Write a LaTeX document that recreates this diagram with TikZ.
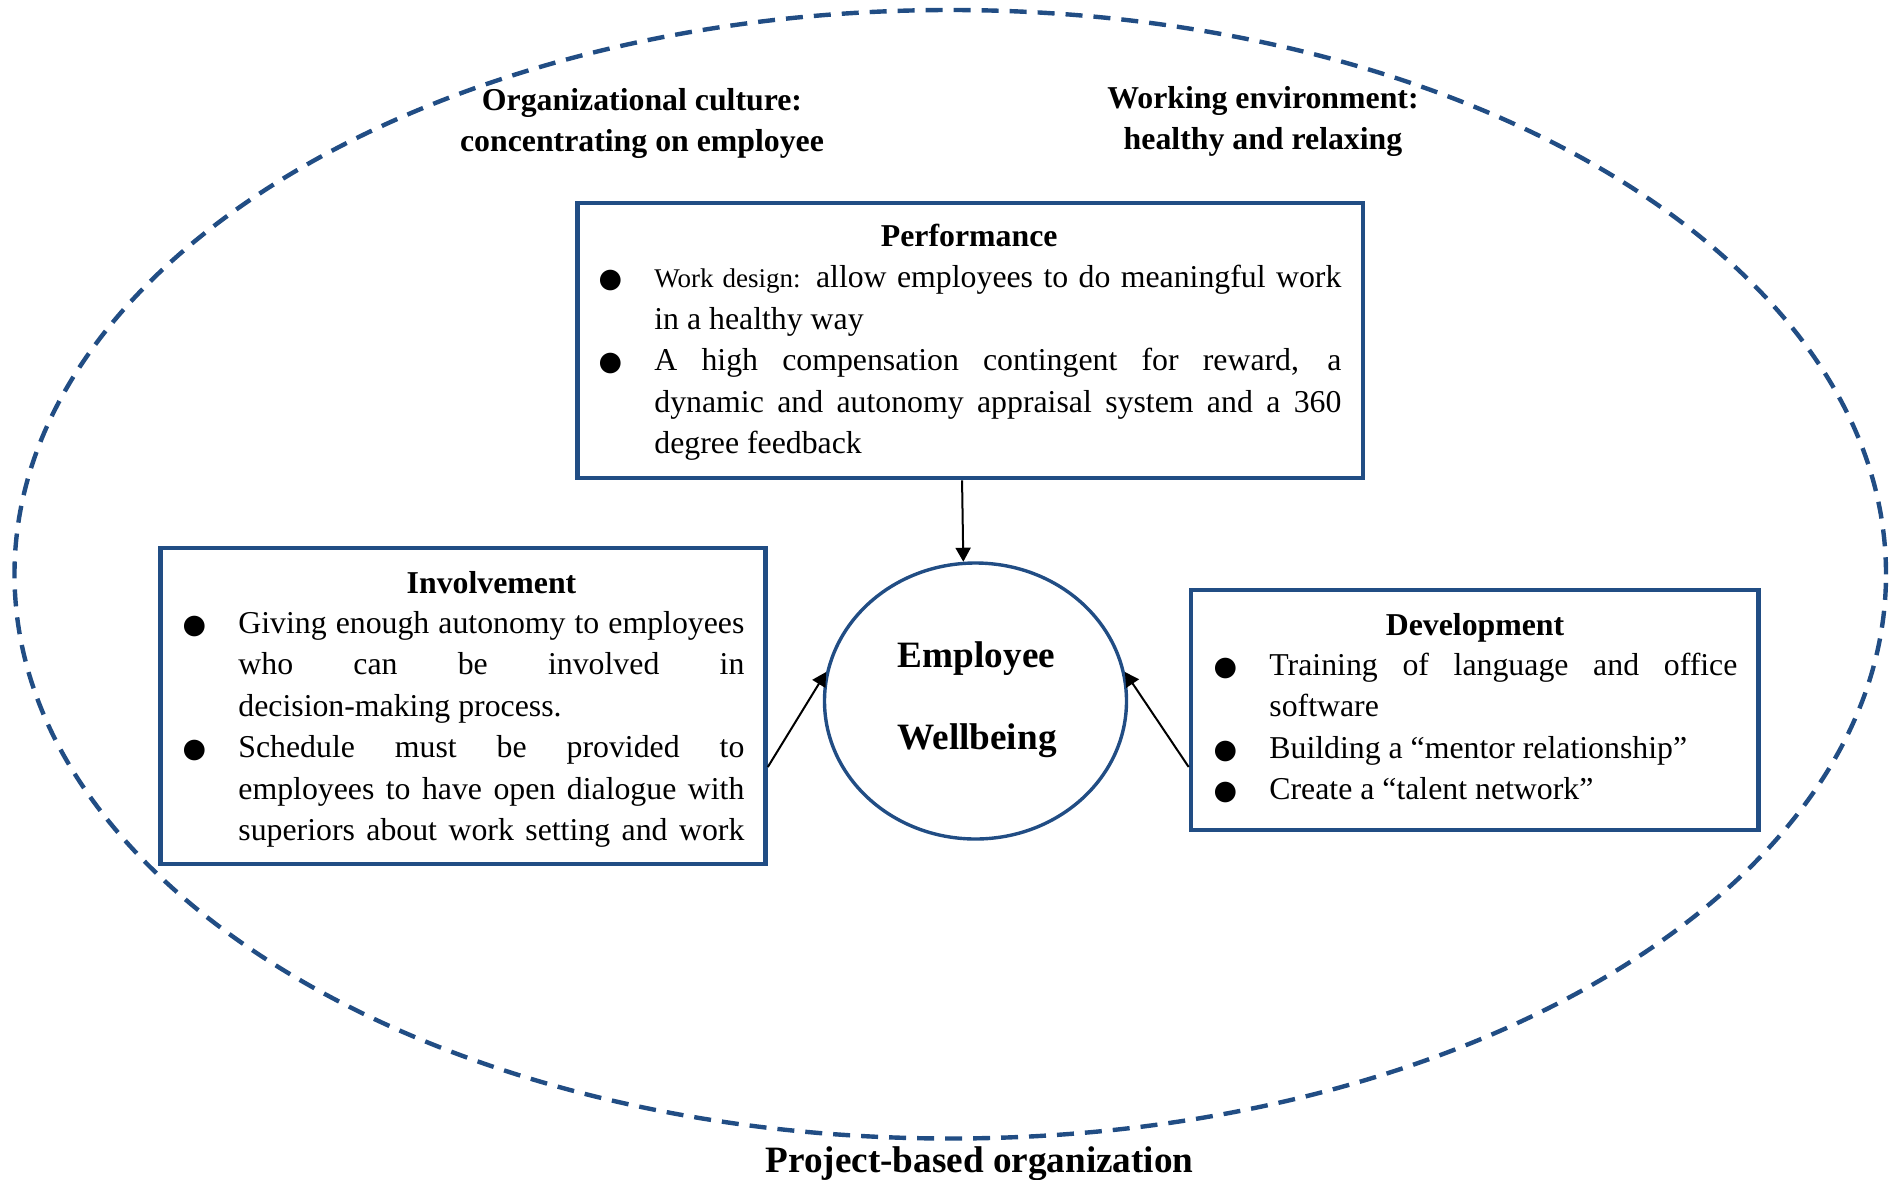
\documentclass[tikz,border=0pt]{standalone}
\usepackage{fontspec}
\setmainfont{Liberation Serif}
\newfontfamily\symfont{DejaVu Sans}
\usetikzlibrary{shapes.geometric,arrows.meta}
\definecolor{frameblue}{RGB}{33,77,132}
\tolerance=10000

% bullet glyph and hanging bullet items (items are separated by \par)
\newcommand{\blob}{\makebox[14pt][c]{\symfont\fontsize{13.5}{13.5}\selectfont ●}}
\newcommand{\point}{\noindent\hangindent=29pt\hangafter=1\makebox[29pt][l]{\blob}\ignorespaces}

\tikzset{
  panel/.style={draw=frameblue, line width=2.3pt, rectangle, inner sep=0pt},
  hub/.style={draw=frameblue, line width=1.7pt, ellipse, inner sep=0pt},
  boundary/.style={draw=frameblue, line width=2.2pt, dash pattern=on 8.5pt off 5.5pt, ellipse, inner sep=0pt},
  heading/.style={font=\fontsize{15.9}{20.75}\selectfont\bfseries, anchor=base, inner sep=0pt},
  bigheading/.style={font=\fontsize{18.6}{22}\selectfont\bfseries, anchor=base, inner sep=0pt},
  body/.style={font=\fontsize{15.9}{20.75}\selectfont, anchor=north west, inner sep=0pt, align=justify},
  link/.style={draw=black, line width=1pt, -{Triangle[length=7pt,width=7.5pt]}},
}

\begin{document}
\begin{tikzpicture}[x=0.5pt, y=-0.5pt]
\useasboundingbox (0,0) rectangle (1890,1179);

% outer boundary of the organisation
\node[boundary, minimum width=935.75pt, minimum height=564.25pt] (org) at (950.25,574.25) {};
\node[bigheading] (orgname) at (979.5,1172) {Project-based organization};

% context labels
\node[heading] (culture1) at (642,110.7) {Organizational culture:};
\node[heading] (culture2) at (642,151.7) {concentrating on employee};
\node[heading] (env1) at (1263,108.7) {Working environment:};
\node[heading] (env2) at (1263,149.7) {healthy and relaxing};

% performance panel
\node[panel, minimum width=392.75pt, minimum height=137.5pt] (perf) at (970.25,340.5) {};
\node[heading] (perftitle) at (969.2,246.7) {Performance};
\node[body, text width=372.5pt] (perfbody) at (596,258.45) {%
\point\strut{\fontsize{13.5}{20.75}\selectfont Work design:} allow employees to do meaningful work\linebreak in a healthy way\par
\point A high compensation contingent for reward, a\linebreak dynamic and autonomy appraisal system and a 360\linebreak degree feedback\par};

% involvement panel
\node[panel, minimum width=302.5pt, minimum height=158pt] (inv) at (463,706) {};
\node[heading] (invtitle) at (491.5,593) {Involvement};
\node[body, text width=282pt] (invbody) at (180,603.95) {%
\point\strut Giving enough autonomy to employees\linebreak who can be involved in\linebreak decision-making process.\par
\point Schedule must be provided to\linebreak employees to have open dialogue with\linebreak superiors about work setting and work\parfillskip=0pt\par};

% development panel
\node[panel, minimum width=283.85pt, minimum height=120pt] (dev) at (1474.85,710) {};
\node[heading] (devtitle) at (1475,635) {Development};
\node[body, text width=263pt] (devbody) at (1211,645.95) {%
\point\strut Training of language and office\linebreak software\par
\point Building a “mentor relationship”\par
\point Create a “talent network”\par};

% central outcome
\node[hub, minimum width=151pt, minimum height=138pt] (wb) at (975.5,701) {};
\node[bigheading] (wb1) at (976.5,667) {Employee};
\node[bigheading] (wb2) at (977,749) {Wellbeing};

% influences
\draw[link] ([xshift=-4.1pt]perf.south) -- (wb.95.6);
\draw[link] ([yshift=-30.5pt]inv.east) -- (wb.169.2);
\draw[link] ([yshift=-28.5pt]dev.west) -- (wb.11.6);
\end{tikzpicture}
\end{document}
